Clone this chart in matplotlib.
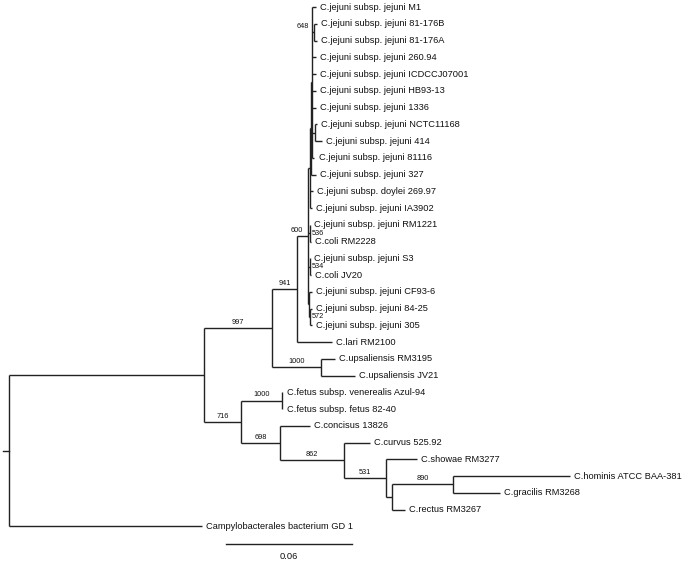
import matplotlib
matplotlib.use("Agg")
import matplotlib.pyplot as plt

plt.rcParams["font.family"] = ["Liberation Sans", "DejaVu Sans"]

# ---- tree data (parent table, preorder; children keep list order) ----
node_names = [
    "root", "n_in", "n997", "n941", "n600", "n_x", "n_y", "n_z",
    "C.jejuni subsp. jejuni M1", "n648",
    "C.jejuni subsp. jejuni 81-176B", "C.jejuni subsp. jejuni 81-176A",
    "C.jejuni subsp. jejuni 260.94", "C.jejuni subsp. jejuni ICDCCJ07001",
    "C.jejuni subsp. jejuni HB93-13", "C.jejuni subsp. jejuni 1336",
    "n414", "C.jejuni subsp. jejuni NCTC11168", "C.jejuni subsp. jejuni 414",
    "C.jejuni subsp. jejuni 81116",
    "C.jejuni subsp. jejuni 327",
    "C.jejuni subsp. doylei 269.97", "C.jejuni subsp. jejuni IA3902",
    "n536", "C.jejuni subsp. jejuni RM1221", "C.coli RM2228",
    "n534", "C.jejuni subsp. jejuni S3", "C.coli JV20",
    "nb", "C.jejuni subsp. jejuni CF93-6", "n572",
    "C.jejuni subsp. jejuni 84-25", "C.jejuni subsp. jejuni 305",
    "C.lari RM2100",
    "n_ups", "C.upsaliensis RM3195", "C.upsaliensis JV21",
    "n716", "n_fetus", "C.fetus subsp. venerealis Azul-94", "C.fetus subsp. fetus 82-40",
    "n698", "C.concisus 13826", "n862", "C.curvus 525.92", "n531",
    "C.showae RM3277", "n_hr", "n890", "C.hominis ATCC BAA-381", "C.gracilis RM3268",
    "C.rectus RM3267",
    "Campylobacterales bacterium GD 1",
]
parents = [
    None, "root", "n_in", "n997", "n941", "n600", "n_x", "n_y",
    "n_z", "n_z",
    "n648", "n648",
    "n_z", "n_z",
    "n_z", "n_z",
    "n_z", "n414", "n414",
    "n_z",
    "n_y",
    "n_x", "n_x",
    "n600", "n536", "n536",
    "n600", "n534", "n534",
    "n600", "nb", "nb",
    "n572", "n572",
    "n941",
    "n997", "n_ups", "n_ups",
    "n_in", "n716", "n_fetus", "n_fetus",
    "n716", "n698", "n698", "n862", "n862",
    "n531", "n531", "n_hr", "n890", "n890",
    "n_hr",
    "root",
]
branch_lengths = [
    0.0, 0.0929, 0.0324, 0.0119, 0.0050, 0.0010, 0.0007, 0.0005,
    0.0019, 0.0010,
    0.0014, 0.0014,
    0.0019, 0.0019,
    0.0019, 0.0019,
    0.0012, 0.0012, 0.0036,
    0.0010,
    0.0024,
    0.0017, 0.0012,
    0.0010, 0.0000, 0.0007,
    0.0010, 0.0002, 0.0007,
    0.0007, 0.0014, 0.0005,
    0.0010, 0.0010,
    0.0167,
    0.0233, 0.0067, 0.0162,
    0.0176, 0.0195, 0.0002, 0.0002,
    0.0186, 0.0143, 0.0305, 0.0124, 0.0200,
    0.0148, 0.0029, 0.0290, 0.0557, 0.0224,
    0.0062,
    0.0919,
]
supports = {
    "n997": "997", "n941": "941", "n600": "600", "n648": "648",
    "n536": "536", "n534": "534", "n572": "572", "n_ups": "1000",
    "n716": "716", "n_fetus": "1000", "n698": "698", "n862": "862",
    "n531": "531", "n890": "890",
}
# where the support value sits relative to its node
support_place = {"n600": "left", "n648": "left",
                 "n536": "right", "n534": "right", "n572": "right"}
scale_length = 0.06

# ---- layout ----
children = {n: [] for n in node_names}
for n, p in zip(node_names, parents):
    if p is not None:
        children[p].append(n)
bl = dict(zip(node_names, branch_lengths))
par = dict(zip(node_names, parents))

xpos, ypos = {}, {}
leaf_counter = [0]


def layout(n, x):
    xpos[n] = x
    if not children[n]:
        ypos[n] = leaf_counter[0]
        leaf_counter[0] += 1
        return
    for c in children[n]:
        layout(c, x + bl[c])
    ypos[n] = 0.5 * (ypos[children[n][0]] + ypos[children[n][-1]])


layout("root", 0.0)
n_leaves = leaf_counter[0]

fig = plt.figure(figsize=(6.86, 5.63), dpi=100)
ax = fig.add_axes([0, 0, 1, 1])
ax.axis("off")
ax.set_xlim(-0.0043, 0.3224)
ax.set_ylim(33.19, -0.418)

lc = "#222222"
lw = 1.0
tc = "#111111"
for n in node_names:
    if children[n]:
        ys = [ypos[c] for c in children[n]]
        ax.plot([xpos[n], xpos[n]], [min(ys), max(ys)], color=lc, lw=lw,
                solid_capstyle="butt")
    if par[n] is not None:
        ax.plot([xpos[par[n]], xpos[n]], [ypos[n], ypos[n]], color=lc, lw=lw,
                solid_capstyle="butt")
    else:
        ax.plot([xpos[n] - 0.0029, xpos[n]], [ypos[n], ypos[n]], color=lc, lw=lw)

# tip labels
for n in node_names:
    if not children[n]:
        ax.annotate(n, (xpos[n], ypos[n]), xytext=(3.0, 0),
                    textcoords="offset points", ha="left", va="center",
                    fontsize=6.7, color=tc)

# support values
for n, s in supports.items():
    mode = support_place.get(n, "mid")
    if mode == "mid":
        x = 0.5 * (xpos[par[n]] + xpos[n])
        ax.annotate(s, (x, ypos[n]), xytext=(0, 1.6), textcoords="offset points",
                    ha="center", va="bottom", fontsize=5.3, color=tc)
    elif mode == "left":
        ax.annotate(s, (xpos[n], ypos[n]), xytext=(-3.5, 1.6),
                    textcoords="offset points", ha="right", va="bottom",
                    fontsize=5.3, color=tc)
    else:
        ax.annotate(s, (xpos[n], ypos[n]), xytext=(1.2, 0),
                    textcoords="offset points", ha="left", va="center",
                    fontsize=5.3, color=tc)

# scale bar
sb_x0 = 0.1033
sb_y = n_leaves + 0.05
ax.plot([sb_x0, sb_x0 + scale_length], [sb_y, sb_y], color=lc, lw=lw)
ax.annotate(f"{scale_length:.2f}", (sb_x0 + scale_length / 2, sb_y),
            xytext=(0, -5.5), textcoords="offset points", ha="center", va="top",
            fontsize=6.7, color=tc)

fig.savefig("out.png", dpi=100, facecolor="white")
